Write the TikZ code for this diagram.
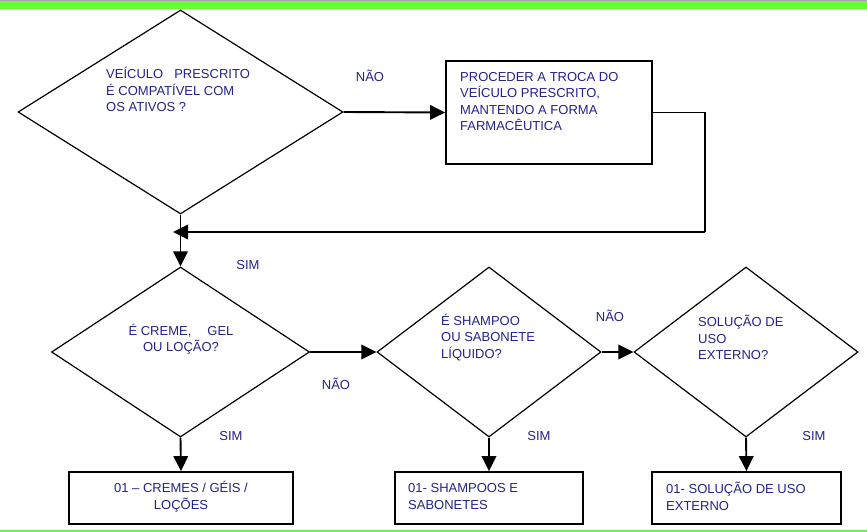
\documentclass[tikz,border=0pt]{standalone}
\usepackage{fontspec}
\setmainfont{Liberation Sans}
\usetikzlibrary{shapes.geometric,arrows.meta}
\definecolor{txt}{RGB}{35,35,140}
\definecolor{bartop}{RGB}{102,255,51}
\definecolor{barbot}{RGB}{120,235,90}
\definecolor{topline}{RGB}{175,160,175}
\begin{document}
\begin{tikzpicture}[x=1pt,y=-1pt,
  dia/.style={diamond, draw, line width=1.2pt, inner sep=0pt},
  boxn/.style={rectangle, draw, line width=1.8pt, inner sep=0pt},
  txtn/.style={text=txt, font=\fontsize{13}{16.5}\selectfont, inner sep=0pt},
  lab/.style={text=txt, font=\fontsize{13}{16.5}\selectfont, inner sep=0pt},
  arr/.style={line width=1.9pt, -{Triangle[length=15pt,width=14.5pt]}},
  ln/.style={line width=1.9pt}]
\useasboundingbox (0,0) rectangle (867,532);
\fill[white] (0,0) rectangle (867,532);
% bars
\fill[topline] (0,0) rectangle (867,1.2);
\fill[bartop] (0,1.2) rectangle (867,9.3);
\fill[barbot] (0,529.5) rectangle (867,532);

% top decision
\node[dia, minimum width=325pt, minimum height=204pt] (d1) at (180.5,112) {};
\node[txtn, anchor=west, align=left] (t1) at (106,89.5)
  {VEÍCULO\hspace{11pt}PRESCRITO\\É COMPATÍVEL COM\\OS ATIVOS ?};
\node[boxn, minimum width=206pt, minimum height=103pt] (P) at (549,112.5) {};
\node[txtn, anchor=west, align=left] (tP) at (460,101.5)
  {PROCEDER A TROCA DO\\VEÍCULO PRESCRITO,\\MANTENDO A FORMA\\FARMACÊUTICA};

% second row
\node[dia, minimum width=258pt, minimum height=170pt] (d2) at (180.5,352) {};
\node[txtn, align=center] (t2) at (181,339)
  {É CREME,\hspace{16pt}GEL\\OU LOÇÃO?};
\node[dia, minimum width=224pt, minimum height=170pt] (d3) at (489,352) {};
\node[txtn, anchor=west, align=left] (t3) at (441,337.5)
  {É SHAMPOO\\OU SABONETE\\LÍQUIDO?};
\node[dia, minimum width=224pt, minimum height=170pt] (d4) at (746,352) {};
\node[txtn, anchor=west, align=left] (t4) at (698,337.5)
  {SOLUÇÃO DE\\USO\\EXTERNO?};

% result boxes
\node[boxn, minimum width=224pt, minimum height=52pt] (B1) at (181,498) {};
\node[txtn, align=center] (tb1) at (181,496.5) {01 – CREMES / GÉIS /\\LOÇÕES};
\node[boxn, minimum width=188pt, minimum height=52pt] (B2) at (489,498) {};
\node[txtn, anchor=west, align=left] (tb2) at (408,496.5) {01- SHAMPOOS E\\SABONETES};
\node[boxn, minimum width=189pt, minimum height=52pt] (B3) at (746.5,498) {};
\node[txtn, anchor=west, align=left] (tb3) at (666,496.5) {01- SOLUÇÃO DE USO\\EXTERNO};

% labels
\node[lab] (n1) at (370,76) {NÃO};
\node[lab] (s1) at (248,265) {SIM};
\node[lab] (n2) at (336,384) {NÃO};
\node[lab] (s2) at (231,436) {SIM};
\node[lab] (n3) at (610,316) {NÃO};
\node[lab] (s3) at (539,436) {SIM};
\node[lab] (s4) at (814,436) {SIM};

% connectors
\coordinate (turn) at (705,232);
\coordinate (m) at (173,232);
\draw[arr] (d1.east) -- (P.west);
\draw[ln] (P.east) -| (turn);
\draw[arr] (turn) -- (m);
\draw[arr] (d1.south) -- (d2.north);
\draw[arr] (d2.east) -- (d3.west);
\draw[arr] (d3.east) -- (d4.west);
\draw[arr] (d2.south) -- (B1.north);
\draw[arr] (d3.south) -- (B2.north);
\draw[arr] (d4.south) -- (B3.north);
\end{tikzpicture}
\end{document}
